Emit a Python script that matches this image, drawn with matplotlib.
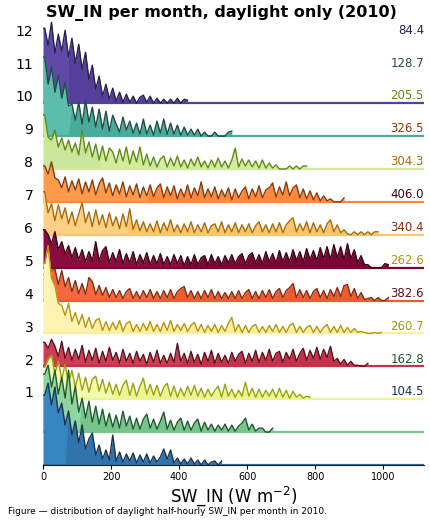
import numpy as np
import matplotlib
matplotlib.use("Agg")
import matplotlib.pyplot as plt

# histogram heights per month, 10 W m-2 bins starting at 0 (relative density)
bin_width = 10
jan = [70, 82, 60, 78, 52, 62, 40, 54, 30, 44, 22, 40, 16, 26, 32, 10, 20, 6, 15, 5,
       30, 4, 13, 3, 11, 4, 12, 2, 10, 3, 11, 2, 9, 3, 8, 16, 6, 15, 2, 7,
       1, 6, 1, 7, 1, 5, 0, 5, 0, 3, 4, 0, 4]
feb = [58, 67, 45, 62, 38, 55, 34, 62, 28, 46, 20, 34, 14, 31, 10, 26, 8, 23, 6, 19,
       5, 17, 4, 21, 6, 16, 3, 14, 3, 13, 18, 4, 13, 3, 11, 20, 3, 12, 2, 10,
       14, 2, 11, 2, 9, 13, 1, 10, 2, 8, 1, 7, 2, 8, 1, 7, 1, 6, 9, 14,
       2, 8, 1, 4, 4, 0, 0, 4]
mar = [32, 40, 44, 26, 38, 20, 35, 16, 29, 12, 26, 9, 22, 7, 20, 23, 8, 20, 6, 17,
       5, 15, 4, 14, 19, 4, 16, 3, 13, 21, 5, 15, 4, 14, 3, 12, 16, 3, 13, 2,
       11, 3, 13, 4, 14, 3, 11, 2, 10, 3, 9, 13, 2, 15, 3, 10, 2, 9, 3, 17,
       3, 11, 2, 10, 2, 9, 3, 10, 2, 11, 2, 9, 1, 8, 2, 5, 1, 3, 2]
apr = [24, 18, 27, 20, 10, 25, 8, 19, 6, 17, 7, 21, 4, 16, 6, 18, 3, 15, 5, 19,
       6, 14, 3, 17, 5, 13, 3, 15, 5, 12, 2, 14, 4, 16, 3, 11, 3, 13, 4, 23,
       5, 13, 3, 15, 4, 12, 2, 14, 5, 16, 3, 13, 4, 11, 3, 14, 5, 12, 15, 3,
       13, 5, 16, 4, 14, 6, 17, 5, 13, 15, 4, 14, 7, 17, 5, 13, 18, 6, 16, 8,
       19, 7, 17, 9, 20, 5, 8, 2, 7, 1, 5, 1, 1, 0, 0, 3]
may = [70, 88, 55, 48, 30, 28, 18, 30, 12, 21, 9, 19, 6, 16, 5, 13, 15, 3, 12, 3,
       11, 4, 13, 2, 10, 12, 2, 9, 2, 10, 3, 12, 2, 9, 2, 11, 3, 13, 2, 9,
       3, 10, 2, 8, 11, 2, 9, 1, 8, 2, 9, 1, 8, 2, 10, 16, 2, 9, 1, 8,
       1, 7, 9, 1, 7, 1, 8, 2, 9, 1, 7, 1, 8, 10, 1, 7, 1, 6, 8, 1,
       7, 1, 6, 9, 1, 7, 1, 8, 1, 6, 1, 5, 1, 2, 1, 0, 0, 1, 0, 1]
jun = [26, 20, 30, 32, 16, 30, 14, 23, 9, 20, 7, 17, 6, 23, 19, 6, 15, 5, 13, 3,
       11, 3, 10, 2, 9, 12, 2, 9, 2, 10, 3, 11, 2, 9, 2, 10, 3, 11, 2, 9,
       12, 14, 3, 10, 2, 9, 2, 10, 3, 11, 2, 9, 2, 8, 2, 9, 2, 10, 2, 8,
       11, 2, 9, 2, 10, 3, 11, 2, 9, 12, 3, 10, 13, 17, 3, 11, 3, 10, 2, 9,
       12, 3, 10, 2, 11, 4, 13, 4, 15, 16, 4, 12, 2, 8, 1, 2, 3, 0, 3, 0,
       0, 3]
jul = [38, 33, 24, 36, 18, 26, 14, 22, 10, 20, 8, 18, 6, 16, 7, 26, 7, 17, 21, 5,
       15, 6, 18, 4, 14, 5, 16, 3, 13, 5, 15, 3, 12, 4, 14, 3, 11, 3, 13, 4,
       12, 2, 11, 3, 13, 3, 10, 12, 3, 13, 4, 11, 3, 12, 5, 13, 4, 11, 14, 4,
       12, 15, 5, 13, 4, 16, 6, 14, 5, 17, 6, 15, 6, 18, 7, 16, 6, 19, 8, 17,
       7, 20, 9, 21, 8, 23, 10, 21, 8, 24, 9, 18, 5, 12, 3, 3, 0, 0, 0, 0,
       4, 3]
aug = [43, 22, 31, 14, 30, 16, 27, 11, 23, 9, 21, 32, 12, 23, 8, 25, 10, 20, 7, 22,
       9, 18, 6, 21, 8, 26, 5, 15, 4, 13, 3, 11, 3, 14, 2, 12, 4, 15, 3, 10,
       2, 11, 3, 13, 2, 10, 3, 12, 2, 9, 11, 3, 13, 2, 10, 3, 12, 2, 10, 3,
       11, 2, 9, 13, 3, 10, 2, 11, 3, 12, 2, 10, 14, 17, 3, 11, 4, 13, 2, 12,
       3, 10, 2, 11, 15, 3, 10, 2, 5, 1, 0, 3, 0, 3, 0, 3, 0, 3, 3]
sep = [36, 28, 40, 24, 22, 14, 25, 10, 21, 12, 23, 8, 20, 10, 22, 7, 18, 24, 9, 19,
       6, 17, 8, 20, 5, 16, 7, 18, 4, 15, 6, 17, 5, 14, 18, 4, 15, 6, 16, 3,
       13, 5, 17, 4, 14, 6, 20, 4, 13, 5, 15, 3, 12, 5, 14, 2, 13, 4, 11, 15,
       3, 13, 5, 16, 4, 12, 14, 19, 5, 15, 7, 20, 6, 14, 17, 4, 13, 3, 11, 2,
       9, 1, 6, 1, 3, 0, 0, 0, 4]
oct_ = [54, 32, 29, 39, 22, 31, 19, 29, 17, 26, 14, 39, 16, 27, 12, 25, 9, 23, 8, 21,
        17, 6, 20, 8, 22, 5, 18, 7, 22, 4, 15, 3, 12, 2, 10, 13, 2, 11, 3, 13,
        2, 9, 1, 10, 3, 12, 2, 8, 1, 9, 2, 11, 2, 8, 1, 9, 21, 2, 10, 3,
        9, 2, 8, 1, 9, 1, 6, 1, 4, 0, 0, 0, 3, 0, 3, 0, 3, 3]
nov = [79, 52, 69, 44, 61, 38, 54, 30, 32, 16, 34, 12, 36, 14, 29, 9, 27, 7, 25, 5,
       21, 12, 4, 19, 6, 15, 3, 13, 2, 17, 2, 11, 1, 15, 3, 17, 2, 13, 2, 11,
       1, 9, 1, 7, 1, 7, 0, 4, 0, 0, 4, 0, 0, 0, 4, 5]
dec = [75, 58, 81, 50, 69, 52, 73, 46, 65, 40, 59, 34, 51, 24, 38, 14, 27, 7, 19, 4,
       15, 2, 11, 1, 9, 1, 7, 0, 6, 8, 1, 7, 0, 5, 0, 4, 0, 4, 0, 5,
       0, 4, 3]

month_hist = [jan, feb, mar, apr, may, jun, jul, aug, sep, oct_, nov, dec]
month_labels = [str(m) for m in range(1, 13)]
month_means = [104.5, 162.8, 260.7, 382.6, 262.6, 340.4, 406.0, 304.3, 326.5, 205.5, 128.7, 84.4]

fill_colors = ["#2f74ac", "#77c58a", "#ebf593", "#c5304a", "#ffee9e", "#f05a32",
               "#7a0534", "#fdc46e", "#fd8a3a", "#d2eb9e", "#48ab9b", "#54409a"]
left_colors = ["#3686c2", "#90d4a0", "#f3faae", "#d03c55", "#fff3b3", "#f4683e",
               "#8a0c3e", "#fed084", "#fe9a4c", "#c9e69a", "#5dbdad", "#5f4ba6"]
line_colors = ["#1a3552", "#1d5a30", "#9ba20a", "#5e0f1a", "#b8940a", "#8a2a0c",
               "#3c0016", "#a86c08", "#8a3a0a", "#5e8c14", "#1e4e46", "#2a2050"]

row_px = 32.9
xmax = 1120

fig = plt.figure(figsize=(4.31, 5.23), dpi=100)
ax = fig.add_axes([43 / 431, 58 / 523, 381 / 431, 446 / 523])

for k in range(11, -1, -1):
    h = np.array(month_hist[k], dtype=float) / row_px
    x = np.arange(len(h)) * bin_width + bin_width / 2
    x = np.concatenate([[0], x])
    y = np.concatenate([[h[0]], h])
    base = float(k)
    # median of the histogram for the two-tone fill
    cum = np.cumsum(month_hist[k])
    med = (np.searchsorted(cum, cum[-1] / 2) + 0.5) * bin_width
    z = 20 - k
    ax.fill_between(x, base, base + y, where=x <= med, interpolate=True,
                    color=left_colors[k], lw=0, zorder=z)
    ax.fill_between(x, base, base + y, where=x >= med, interpolate=True,
                    color=fill_colors[k], lw=0, zorder=z)
    ax.plot(x, base + y, color=line_colors[k], lw=1.0, zorder=z + 0.1)
    ax.plot([0, xmax], [base, base], color=fill_colors[k], lw=1.6, zorder=z + 0.05,
            solid_capstyle="butt")
    ax.text(xmax, base + 2.22, f"{month_means[k]:.1f}", ha="right", va="center",
            fontsize=8.5, color=line_colors[k], zorder=40)

ax.set_xlim(0, xmax)
ax.set_ylim(0, 13.56)
ax.set_yticks(np.arange(12) + 2.22)
ax.set_yticklabels(month_labels, fontsize=10)
ax.tick_params(axis="y", length=0, pad=7)
ax.set_xticks(range(0, 1001, 200))
ax.tick_params(axis="x", labelsize=7, length=3, width=0.8, pad=2)
for s in ["left", "top", "right"]:
    ax.spines[s].set_visible(False)
ax.spines["bottom"].set_color("#1a1a2a")
ax.spines["bottom"].set_zorder(50)
ax.set_xlabel("SW_IN (W m$^{-2}$)", fontsize=12, labelpad=2)

fig.text(221 / 431, 1 - 13 / 523, "SW_IN per month, daylight only (2010)",
         ha="center", va="center", fontsize=11.5, fontweight="bold")
fig.text(8 / 431, 1 - 511 / 523,
         "Figure \u2014 distribution of daylight half-hourly SW_IN per month in 2010.",
         ha="left", va="center", fontsize=6.5)

fig.savefig("out.png", dpi=100)
